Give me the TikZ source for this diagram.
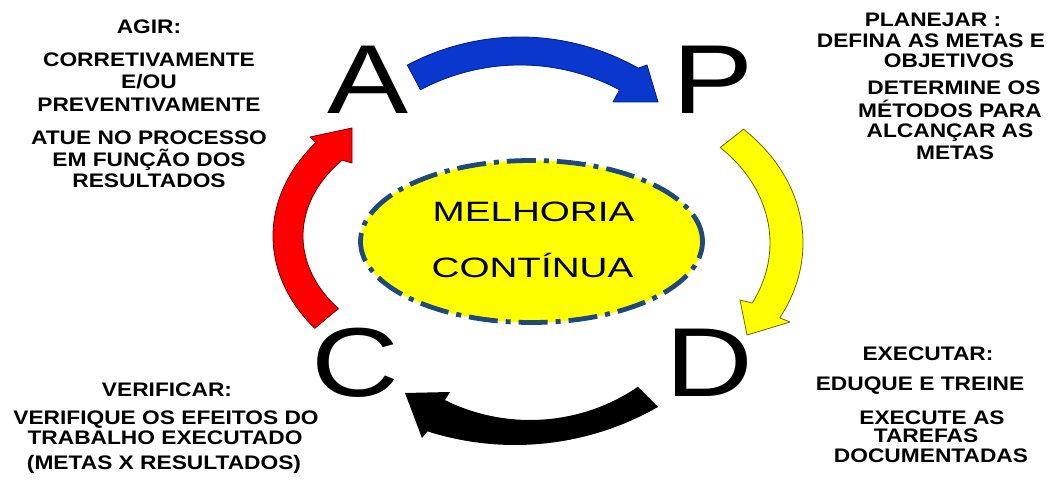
\documentclass[tikz,border=0pt]{standalone}
\usepackage{fontspec}
\setmainfont{Liberation Sans}
\newfontfamily\blockfont{Liberation Sans}[FakeStretch=1.16]
\newfontfamily\letterfont{Liberation Sans}[FakeStretch=1.24]
\newfontfamily\centerfont{Liberation Sans}[FakeStretch=1.38]
\usetikzlibrary{shapes.geometric}
\definecolor{arrblue}{RGB}{10,55,205}
\definecolor{arrblueline}{RGB}{0,30,120}
\definecolor{arrred}{RGB}{255,0,0}
\definecolor{arrredline}{RGB}{110,0,0}
\definecolor{arryellow}{RGB}{255,255,0}
\definecolor{arryellowline}{RGB}{110,100,0}
\definecolor{rimblue}{RGB}{31,73,125}
\begin{document}
\begin{tikzpicture}[x=1pt,y=1pt,
  lbl/.style={font=\blockfont\bfseries\fontsize{19.6}{22}\selectfont, inner sep=0pt,
              text height=14.5pt, text depth=0pt, anchor=base},
  bigletter/.style={font=\letterfont\fontsize{98}{98}\selectfont, inner sep=0pt},
  midtext/.style={font=\centerfont\fontsize{28}{30}\selectfont, inner sep=0pt, anchor=base},
  bandarrow/.style={line width=0.8pt, line join=round}]
\fill[white] (0,0) rectangle (1052,482);
\useasboundingbox (0,0) rectangle (1052,482);

% central ellipse
\node[ellipse, draw=rimblue, fill=arryellow, line width=4.8pt,
      dash pattern=on 29pt off 8pt on 5pt off 8pt,
      minimum width=342pt, minimum height=162pt, inner sep=0pt] (mc) at (531.5,240.5) {};
\node[midtext] (mc1) at (533.5,260) {MELHORIA};
\node[midtext] (mc2) at (532.5,204) {CONTÍNUA};

% the four stage letters
\node[bigletter] (a) at (368,402) {A};
\node[bigletter] (p) at (713,402) {P};
\node[bigletter] (c) at (355,119) {C};
\node[bigletter] (d) at (709,119) {D};

% A -> P (blue)
\filldraw[bandarrow, fill=arrblue, draw=arrblueline]
  ([shift={(520,205)}]118:240) arc[start angle=118, end angle=60.5, radius=240]
  -- (647,417) -- (658,380) -- (613,380)
  -- ([shift={(520,205)}]62:212) arc[start angle=62, end angle=118, radius=212] -- cycle;

% P -> D (yellow)
\filldraw[bandarrow, fill=arryellow, draw=arryellowline]
  plot[domain=45:-27.7, samples=40] ({600+203*cos(\x)},{239+161*sin(\x)})
  -- (790,160) -- (747,147) -- (740,182)
  -- plot[domain=-26.4:45, samples=40] ({600+170*cos(\x)},{239+135*sin(\x)}) -- cycle;

% D -> C (black)
\fill[black]
  ([shift={(515,325)}]-60.2:288) arc[start angle=-60.2, end angle=-107.7, radius=288]
  -- (422,44) -- (405,89) -- (450,90)
  -- ([shift={(530,254)}]-116.3:192) arc[start angle=-116.3, end angle=-55.8, radius=192] -- cycle;

% C -> A (red)
\filldraw[bandarrow, fill=arrred, draw=arrredline]
  plot[domain=218:141.5, samples=40] ({470+197*cos(\x)},{246+150*sin(\x)})
  -- (310,345) -- (352,354) -- (352,319)
  -- plot[domain=140:218, samples=40] ({470+167*cos(\x)},{246+118*sin(\x)}) -- cycle;

% AGIR
\node[lbl] (ag1) at (149,448.8) {AGIR:};
\node[lbl] (ag2) at (149,415.8) {CORRETIVAMENTE};
\node[lbl] (ag3) at (149,393.3) {E/OU};
\node[lbl] (ag4) at (149,370.3) {PREVENTIVAMENTE};
\node[lbl] (ag5) at (149,337.3) {ATUE NO PROCESSO};
\node[lbl] (ag6) at (149,315.3) {EM FUNÇÃO DOS};
\node[lbl] (ag7) at (149,294.3) {RESULTADOS};

% PLANEJAR
\node[lbl] (pl1) at (933,455.8) {PLANEJAR :};
\node[lbl] (pl2) at (931,434.8) {DEFINA AS METAS E};
\node[lbl] (pl3) at (949,414.8) {OBJETIVOS};
\node[lbl] (pl4) at (954,387.3) {DETERMINE OS};
\node[lbl] (pl5) at (950,364.8) {MÉTODOS PARA};
\node[lbl] (pl6) at (950,344.3) {ALCANÇAR AS};
\node[lbl] (pl7) at (955,322.3) {METAS};

% VERIFICAR
\node[lbl] (ve1) at (167,85.3) {VERIFICAR:};
\node[lbl] (ve2) at (166,57.3) {VERIFIQUE OS EFEITOS DO};
\node[lbl] (ve3) at (165,37.8) {TRABALHO EXECUTADO};
\node[lbl] (ve4) at (164,12.3) {(METAS X RESULTADOS)};

% EXECUTAR
\node[lbl] (ex1) at (928,121.3) {EXECUTAR:};
\node[lbl] (ex2) at (920,91.3) {EDUQUE E TREINE};
\node[lbl] (ex3) at (932,57.8) {EXECUTE AS};
\node[lbl] (ex4) at (926,39.8) {TAREFAS};
\node[lbl] (ex5) at (931,19.3) {DOCUMENTADAS};
\end{tikzpicture}
\end{document}
